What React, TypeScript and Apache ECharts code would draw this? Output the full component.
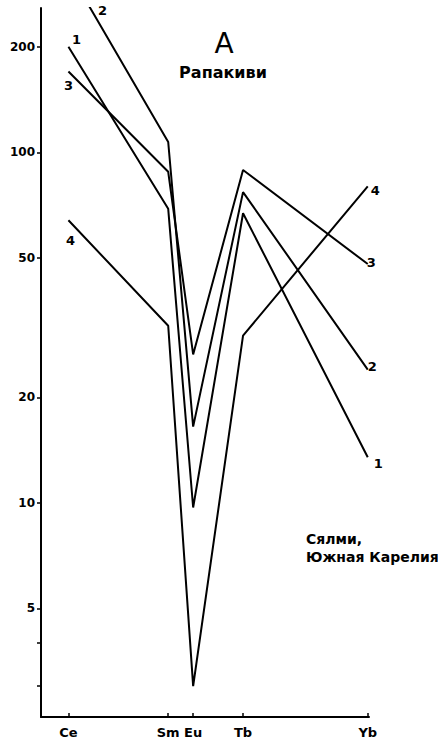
import React, { useEffect, useRef } from "react";
import * as echarts from "echarts";

// REE atomic numbers used as x positions
const elements = ["Ce", "Sm", "Eu", "Tb", "Yb"];
const atomicNumbers = [58, 62, 63, 65, 70];

const series1 = [200, 69, 9.7, 67, 13.5];
const series2 = [330, 107, 16.5, 77, 24];
const series3 = [170, 88, 26.5, 89, 48];
const series4 = [64, 32, 3.0, 30, 80];

const yLabelValues = [5, 10, 20, 50, 100, 200];
const yTickValues = [3, 4, 5, 10, 20, 50, 100, 200];

const FONT = "DejaVu Sans";

export default function App() {
  const ref = useRef<HTMLDivElement>(null);
  useEffect(() => {
    if (!ref.current) return;
    const chart = echarts.init(ref.current, undefined, { renderer: "svg" });
    const mk = (name: string, vals: number[], leftLabel: any, rightLabel: any) => ({
      type: "line",
      name,
      data: vals.map((v, i) => {
        const item: any = { value: [atomicNumbers[i], v] };
        if (i === 0 && leftLabel) item.label = { show: true, ...leftLabel };
        if (i === vals.length - 1 && rightLabel) item.label = { show: true, ...rightLabel };
        return item;
      }),
      symbol: "circle",
      showSymbol: true,
      symbolSize: 0.1,
      lineStyle: { color: "#000", width: 2 },
      itemStyle: { color: "rgba(0,0,0,0)" },
      label: {
        show: false,
        formatter: name,
        color: "#000",
        fontFamily: FONT,
        fontWeight: "bold",
        fontSize: 13,
      },
      z: 3,
    });
    chart.setOption({
      animation: false,
      backgroundColor: "#fff",
      grid: { left: 41, right: 69, top: 8, bottom: 26, containLabel: false },
      xAxis: {
        type: "value",
        min: 56.9,
        max: 70.05,
        splitLine: { show: false },
        axisLine: { show: true, onZero: false, lineStyle: { color: "#000", width: 2 } },
        axisTick: {
          show: true,
          inside: true,
          length: 4,
          customValues: atomicNumbers,
          lineStyle: { color: "#000", width: 1.5 },
        },
        axisLabel: {
          customValues: atomicNumbers,
          formatter: (v: number) => elements[atomicNumbers.indexOf(v)] ?? "",
          color: "#000",
          fontFamily: FONT,
          fontWeight: "bold",
          fontSize: 13,
          margin: 9,
        },
      },
      yAxis: {
        type: "log",
        logBase: 10,
        min: 2.45,
        max: 258,
        splitLine: { show: false },
        minorTick: { show: false },
        axisLine: { show: true, lineStyle: { color: "#000", width: 2 } },
        axisTick: {
          show: true,
          length: 4,
          customValues: yTickValues,
          lineStyle: { color: "#000", width: 1.5 },
        },
        axisLabel: {
          customValues: yLabelValues,
          formatter: (v: number) => String(Math.round(v)),
          color: "#000",
          fontFamily: FONT,
          fontWeight: "bold",
          fontSize: 12,
          margin: 6,
        },
      },
      series: [
        mk("1", series1, { position: "top", offset: [8, 4] }, { position: "right", offset: [1, 6] }),
        mk("2", series2, null, { position: "right", offset: [-5, -3] }),
        mk("3", series3, { position: "bottom", offset: [0, 2] }, { position: "right", offset: [-6, -2] }),
        mk("4", series4, { position: "bottom", offset: [2, 9] }, { position: "right", offset: [-2, 4] }),
      ],
      graphic: [
        { type: "text", x: 98, y: 4, style: { text: "2", fill: "#000", font: `bold 13px "${FONT}"` } },
        { type: "text", x: 224, y: 43, style: { text: "A", fill: "#000", font: `28px "${FONT}"`, align: "center", verticalAlign: "middle" } },
        { type: "text", x: 223, y: 72, style: { text: "Рапакиви", fill: "#000", font: `bold 16px "${FONT}"`, align: "center", verticalAlign: "middle" } },
        { type: "text", x: 306, y: 530, style: { text: "Сялми,\nЮжная Карелия", fill: "#000", font: `bold 14px "${FONT}"`, lineHeight: 18 } },
      ],
    });
    return () => chart.dispose();
  }, []);
  return <div ref={ref} style={{ position: "absolute", left: 0, top: 0, width: 438, height: 743 }} />;
}
